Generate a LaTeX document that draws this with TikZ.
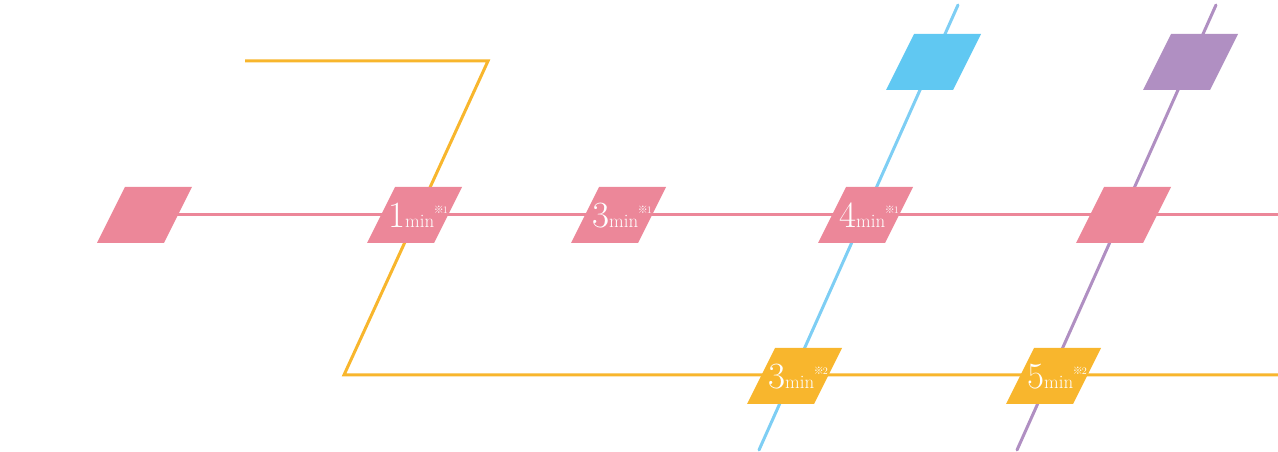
\documentclass[tikz,border=0pt]{standalone}
\usepackage{fontspec}
\newfontfamily\cjkfont{Noto Sans CJK JP}
\definecolor{cpink}{HTML}{EC8799}
\definecolor{corange}{HTML}{F8B62D}
\definecolor{cblue}{HTML}{60C8F2}
\definecolor{cblueline}{HTML}{7ECEF4}
\definecolor{cpurple}{HTML}{B08FC2}
\pgfdeclarelayer{bg}
\pgfdeclarelayer{mid}
\pgfsetlayers{bg,mid,main}
\newcommand\timelbl[2]{{\fontsize{37}{37}\selectfont #1}{\fontsize{19}{19}\selectfont min}\kern-0.5pt\raisebox{14pt}{\fontsize{10}{10}\selectfont{\cjkfont ※}\kern-1pt#2}}
\begin{document}
\begin{tikzpicture}[x=1pt,y=1pt,
  line/.style={line width=3pt},
  lbl/.style={text=white, inner sep=0pt},
  para/.style={fill=#1}]
\useasboundingbox (0,0) rectangle (1278,452);
% station nodes
\node[lbl] (p0) at (145,237) {};
\node[lbl] (p1) at (415,237) {};
\node[lbl] (p2) at (619,237) {};
\node[lbl] (p3) at (866,237) {};
\node[lbl] (p4) at (1124,237) {};
\node[lbl] (b1) at (934,390) {};
\node[lbl] (u1) at (1191,390) {};
\node[lbl] (o1) at (795,76) {};
\node[lbl] (o2) at (1054,76) {};
% labels
\node[lbl, anchor=base] at ([xshift=3pt,yshift=-13pt]p1) {\timelbl{1}{1}};
\node[lbl, anchor=base] at ([xshift=3pt,yshift=-13pt]p2) {\timelbl{3}{1}};
\node[lbl, anchor=base] at ([xshift=3pt,yshift=-13pt]p3) {\timelbl{4}{1}};
\node[lbl, anchor=base] at ([xshift=3pt,yshift=-13pt]o1) {\timelbl{3}{2}};
\node[lbl, anchor=base] at ([xshift=3pt,yshift=-13pt]o2) {\timelbl{5}{2}};
% line end coordinates
\coordinate (pinkend) at (1278,237);
\coordinate (ostart) at (245,391);
\coordinate (oc1) at (488,391);
\coordinate (oc2) at (344,77);
\coordinate (oend) at (1278,77);
\coordinate (btop) at (958,447);
\coordinate (bbot) at (759,2);
\coordinate (utop) at (1216,447);
\coordinate (ubot) at (1017,2);
\begin{pgfonlayer}{bg}
\draw[line, corange] (ostart) -- (oc1) -- (oc2) -- (oend);
\draw[line, cblueline, line cap=round] (btop) -- (bbot);
\draw[line, cpurple, line cap=round] (utop) -- (ubot);
\draw[line, cpink] (p0.center) -- (p1.center) -- (p2.center) -- (p3.center) -- (p4.center) -- (pinkend);
\end{pgfonlayer}
\begin{pgfonlayer}{mid}
\foreach \n/\c in {p0/cpink,p1/cpink,p2/cpink,p3/cpink,p4/cpink,b1/cblue,u1/cpurple,o1/corange,o2/corange}{
  \fill[para=\c] ([shift={(-48,-28)}]\n.center) -- ++(67,0) -- ++(28,56) -- ++(-67,0) -- cycle;
}
\end{pgfonlayer}
\end{tikzpicture}
\end{document}
